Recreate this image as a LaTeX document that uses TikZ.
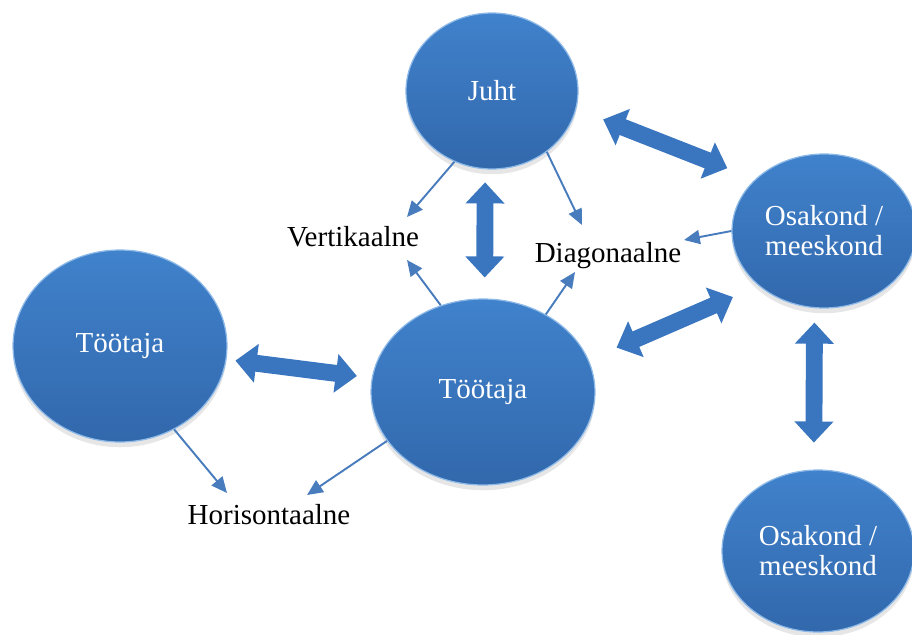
\documentclass[tikz,border=0pt]{standalone}
\usepackage{fontspec}
\setmainfont{Liberation Serif}
\usetikzlibrary{arrows.meta, shapes.geometric, shadows}
\definecolor{ballTop}{RGB}{64,130,204}
\definecolor{ballBottom}{RGB}{50,104,172}
\definecolor{ballRim}{RGB}{140,185,232}
\definecolor{blockBlue}{RGB}{58,118,192}
\definecolor{thinBlue}{RGB}{72,124,188}
\newcommand{\labelfont}{\fontsize{16.5}{17}\selectfont}

\tikzset{
  ball/.style={ellipse, inner sep=0pt, top color=ballTop, bottom color=ballBottom,
    draw=ballRim, line width=0.7pt, text=white, align=center, font=\labelfont,
    drop shadow={shadow xshift=0pt, shadow yshift=-3pt, opacity=0.2}},
  kind/.style={inner sep=0pt, anchor=base, font=\labelfont},
  thin arrow/.style={draw=thinBlue, line width=1.1pt, -{Triangle[length=9pt,width=8pt]}},
  block arrow/.style={draw=blockBlue, line width=9.6pt,
    {Triangle[length=12pt,width=21.5pt]}-{Triangle[length=12pt,width=21.5pt]}}
}

\begin{document}
\begin{tikzpicture}[x=0.02cm, y=-0.02cm]
\useasboundingbox (0,0) rectangle (912,635);

\node [ball, minimum width=3.44cm, minimum height=3.12cm] (juht) at (492,91) {Juht};
\node [ball, minimum width=3.68cm, minimum height=3.08cm] (osakond) at (824,231) {Osakond /\\ meeskond};
\node [ball, minimum width=4.28cm, minimum height=3.84cm] (tootajaL) at (120,346) {Töötaja};
\node [ball, minimum width=4.48cm, minimum height=3.72cm] (tootaja) at (483,392) {Töötaja};
\node [ball, minimum width=3.84cm, minimum height=3.24cm] (osakondB) at (818,551) {Osakond /\\ meeskond};

\node [kind] (vert) at (353,246) {Vertikaalne};
\node [kind] (diag) at (608,262) {Diagonaalne};
\node [kind] (hor) at (269,524) {Horisontaalne};

% kahesuunalised noolte plokid
\draw [block arrow, shorten <=7.4pt, shorten >=11.9pt] (juht.265) -- (tootaja.89);
\draw [block arrow, shorten <=5.1pt, shorten >=8.5pt] (tootajaL) -- (tootaja);
\draw [block arrow, shorten <=16.4pt, shorten >=17pt] (juht.348) -- (osakond.143);
\draw [block arrow, shorten <=17.3pt, shorten >=15.9pt] (tootaja.17) -- (osakond.220);
\draw [block arrow, shorten <=8.2pt, shorten >=15.3pt] (osakond.263) -- (osakondB.93);

% suhtluse suunad
\draw [thin arrow] (juht.242) -- ([shift={(54,-29)}]vert.base);
\draw [thin arrow] (tootaja.116) -- ([shift={(54,14)}]vert.base);
\draw [thin arrow] (juht.312) -- ([shift={(-26,-37)}]diag.base);
\draw [thin arrow] (tootaja.51) -- ([shift={(-33,10)}]diag.base);
\draw [thin arrow] (osakond.180) -- ([shift={(76,-22)}]diag.base);
\draw [thin arrow] (tootajaL.303) -- ([shift={(-42,-31)}]hor.base);
\draw [thin arrow] (tootaja.207) -- ([shift={(38,-29)}]hor.base);
\end{tikzpicture}
\end{document}
